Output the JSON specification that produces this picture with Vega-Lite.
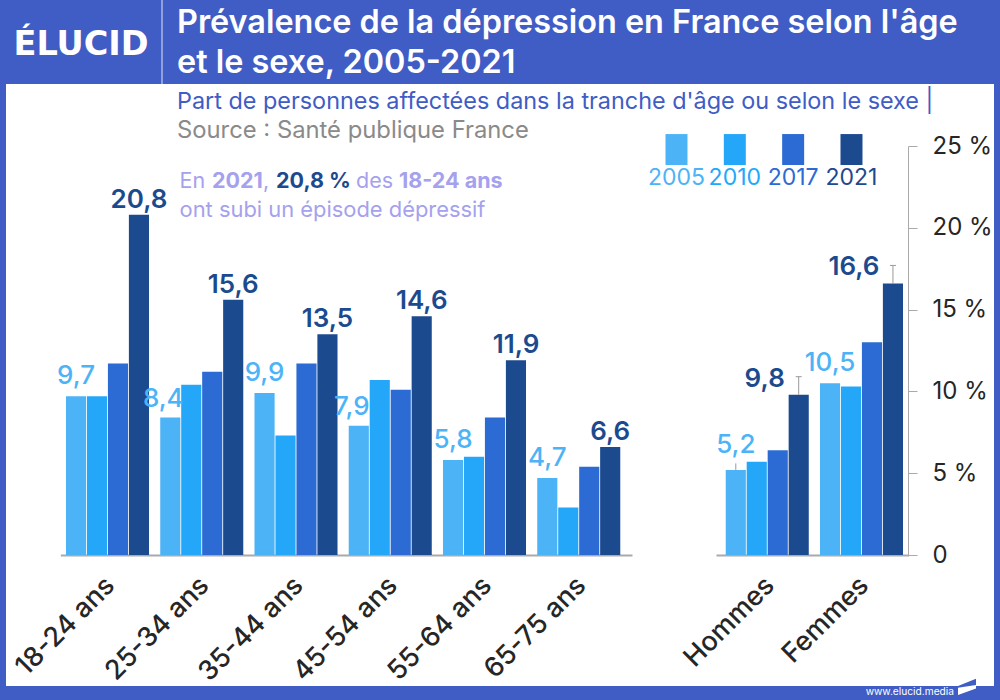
{
  "$schema": "https://vega.github.io/schema/vega-lite/v6.json",
  "width": 988,
  "height": 602,
  "autosize": "none",
  "padding": {"left": 6, "top": 84, "right": 6, "bottom": 14},
  "background": "#405cc5",
  "config": {
    "view": {"fill": "#ffffff", "stroke": null},
    "font": "Inter",
    "text": {"font": "Inter"}
  },
  "datasets": {
    "barres": [
      {"categorie": "18-24 ans", "annee": "2005", "valeur": 9.7, "libelle": "9,7"},
      {"categorie": "18-24 ans", "annee": "2010", "valeur": 9.7},
      {"categorie": "18-24 ans", "annee": "2017", "valeur": 11.7},
      {"categorie": "18-24 ans", "annee": "2021", "valeur": 20.8, "libelle": "20,8"},
      {"categorie": "25-34 ans", "annee": "2005", "valeur": 8.4, "libelle": "8,4"},
      {"categorie": "25-34 ans", "annee": "2010", "valeur": 10.4},
      {"categorie": "25-34 ans", "annee": "2017", "valeur": 11.2},
      {"categorie": "25-34 ans", "annee": "2021", "valeur": 15.6, "libelle": "15,6"},
      {"categorie": "35-44 ans", "annee": "2005", "valeur": 9.9, "libelle": "9,9"},
      {"categorie": "35-44 ans", "annee": "2010", "valeur": 7.3},
      {"categorie": "35-44 ans", "annee": "2017", "valeur": 11.7},
      {"categorie": "35-44 ans", "annee": "2021", "valeur": 13.5, "libelle": "13,5"},
      {"categorie": "45-54 ans", "annee": "2005", "valeur": 7.9, "libelle": "7,9"},
      {"categorie": "45-54 ans", "annee": "2010", "valeur": 10.7},
      {"categorie": "45-54 ans", "annee": "2017", "valeur": 10.1},
      {"categorie": "45-54 ans", "annee": "2021", "valeur": 14.6, "libelle": "14,6"},
      {"categorie": "55-64 ans", "annee": "2005", "valeur": 5.8, "libelle": "5,8"},
      {"categorie": "55-64 ans", "annee": "2010", "valeur": 6.0},
      {"categorie": "55-64 ans", "annee": "2017", "valeur": 8.4},
      {"categorie": "55-64 ans", "annee": "2021", "valeur": 11.9, "libelle": "11,9"},
      {"categorie": "65-75 ans", "annee": "2005", "valeur": 4.7, "libelle": "4,7"},
      {"categorie": "65-75 ans", "annee": "2010", "valeur": 2.9},
      {"categorie": "65-75 ans", "annee": "2017", "valeur": 5.4},
      {"categorie": "65-75 ans", "annee": "2021", "valeur": 6.6, "libelle": "6,6"},
      {"categorie": "Hommes", "annee": "2005", "valeur": 5.2, "libelle": "5,2"},
      {"categorie": "Hommes", "annee": "2010", "valeur": 5.7},
      {"categorie": "Hommes", "annee": "2017", "valeur": 6.4},
      {"categorie": "Hommes", "annee": "2021", "valeur": 9.8, "libelle": "9,8"},
      {"categorie": "Femmes", "annee": "2005", "valeur": 10.5, "libelle": "10,5"},
      {"categorie": "Femmes", "annee": "2010", "valeur": 10.3},
      {"categorie": "Femmes", "annee": "2017", "valeur": 13.0},
      {"categorie": "Femmes", "annee": "2021", "valeur": 16.6, "libelle": "16,6"}
    ],
    "reperes": [
      {"categorie": "Hommes", "annee": "2005", "valeur": 5.2, "repere": 5.6},
      {"categorie": "Hommes", "annee": "2021", "valeur": 9.8, "repere": 10.9},
      {"categorie": "Femmes", "annee": "2021", "valeur": 16.6, "repere": 17.7}
    ],
    "annees": [
      {"annee": "2005"},
      {"annee": "2010"},
      {"annee": "2017"},
      {"annee": "2021"}
    ]
  },
  "resolve": {"scale": {"xOffset": "independent"}},
  "layer": [
    {
      "data": {"values": [{"texte": "coupure"}]},
      "mark": {"type": "tick", "color": "#ffffff", "size": 84, "thickness": 4, "xOffset": 1.5, "opacity": 1},
      "encoding": {
        "x": {"datum": " ", "type": "nominal"},
        "y": {"datum": 0, "type": "quantitative"}
      }
    },
    {
      "data": {"name": "barres"},
      "encoding": {
        "x": {
          "field": "categorie",
          "type": "nominal",
          "sort": null,
          "scale": {
            "domain": ["18-24 ans", "25-34 ans", "35-44 ans", "45-54 ans", "55-64 ans", "65-75 ans", " ", "Hommes", "Femmes"],
            "range": [54.375, 902.625],
            "paddingInner": 0.119,
            "paddingOuter": 0.0595
          },
          "axis": {
            "title": null,
            "orient": "bottom",
            "offset": -131,
            "ticks": false,
            "domainColor": "#aaaaaa",
            "domainWidth": 2,
            "labelAngle": -45,
            "labelAlign": "right",
            "labelBaseline": "middle",
            "labelPadding": 26,
            "labelOffset": 3,
            "labelFont": "Inter",
            "labelFontSize": 27,
            "labelFontWeight": 500,
            "labelColor": "#262626",
            "labelOverlap": false
          }
        },
        "xOffset": {
          "field": "annee",
          "type": "nominal",
          "scale": {"domain": ["2005", "2010", "2017", "2021"], "paddingInner": 0.04}
        },
        "y": {
          "field": "valeur",
          "type": "quantitative",
          "scale": {"domain": [0, 25], "range": [471, 62], "nice": false},
          "axis": {
            "title": null,
            "orient": "right",
            "offset": -86,
            "values": [0, 5, 10, 15, 20, 25],
            "grid": false,
            "domainColor": "#aaaaaa",
            "tickColor": "#aaaaaa",
            "tickSize": 9,
            "labelPadding": 15,
            "labelFont": "Inter",
            "labelFontSize": 24,
            "labelColor": "#262626",
            "labelExpr": "datum.value == 0 ? '0' : datum.value + ' %'"
          }
        },
        "color": {
          "field": "annee",
          "type": "nominal",
          "legend": null,
          "scale": {
            "domain": ["2005", "2010", "2017", "2021"],
            "range": ["#4db3f7", "#24a7f9", "#2b6bd3", "#1c4a8f"]
          }
        }
      },
      "layer": [
        {"mark": {"type": "bar"}},
        {
          "data": {"name": "reperes"},
          "mark": {"type": "rule", "color": "#999999", "strokeWidth": 1},
          "encoding": {
            "y2": {"field": "repere"},
            "color": {"value": "#999999"}
          }
        },
        {
          "data": {"name": "reperes"},
          "transform": [{"filter": "datum.annee == '2021'"}],
          "mark": {"type": "tick", "color": "#999999", "size": 6, "thickness": 1, "xOffset": -3, "opacity": 1},
          "encoding": {
            "y": {"field": "repere", "type": "quantitative"},
            "color": {"value": "#999999"}
          }
        },
        {
          "transform": [{"filter": "datum.annee == '2005' && datum.categorie != '25-34 ans' && datum.categorie != '45-54 ans' && datum.categorie != 'Hommes'"}],
          "mark": {"type": "text", "baseline": "alphabetic", "dy": -12, "fontSize": 26, "fontWeight": 500},
          "encoding": {"text": {"field": "libelle"}}
        },
        {
          "transform": [{"filter": "datum.annee == '2005' && datum.categorie == 'Hommes'"}],
          "mark": {"type": "text", "baseline": "alphabetic", "dy": -17, "fontSize": 26, "fontWeight": 500},
          "encoding": {"text": {"field": "libelle"}}
        },
        {
          "transform": [{"filter": "datum.annee == '2005' && (datum.categorie == '25-34 ans' || datum.categorie == '45-54 ans')"}],
          "mark": {"type": "text", "baseline": "alphabetic", "dx": -7, "dy": -11, "fontSize": 26, "fontWeight": 500},
          "encoding": {"text": {"field": "libelle"}}
        },
        {
          "transform": [{"filter": "datum.annee == '2021' && datum.categorie != 'Hommes' && datum.categorie != 'Femmes'"}],
          "mark": {"type": "text", "baseline": "alphabetic", "dy": -7, "fontSize": 26, "fontWeight": 600},
          "encoding": {"text": {"field": "libelle"}}
        },
        {
          "transform": [{"filter": "datum.annee == '2021' && datum.categorie == 'Hommes'"}],
          "mark": {"type": "text", "baseline": "alphabetic", "dx": -34, "dy": -8, "fontSize": 26, "fontWeight": 600},
          "encoding": {"text": {"field": "libelle"}}
        },
        {
          "transform": [{"filter": "datum.annee == '2021' && datum.categorie == 'Femmes'"}],
          "mark": {"type": "text", "baseline": "alphabetic", "dx": -39, "dy": -8, "fontSize": 26, "fontWeight": 600},
          "encoding": {"text": {"field": "libelle"}}
        }
      ]
    },
    {
      "data": {"name": "annees"},
      "encoding": {
        "x": {"datum": " ", "type": "nominal"},
        "xOffset": {
          "field": "annee",
          "type": "nominal",
          "scale": {"type": "point", "domain": ["2005", "2010", "2017", "2021"], "range": [45, 220], "padding": 0}
        },
        "color": {"field": "annee", "type": "nominal", "legend": null}
      },
      "layer": [
        {
          "mark": {"type": "rule", "strokeWidth": 22},
          "encoding": {
            "y": {"datum": 25.73, "type": "quantitative"},
            "y2": {"datum": 23.84}
          }
        },
        {
          "mark": {"type": "text", "baseline": "alphabetic", "fontSize": 23},
          "encoding": {
            "y": {"datum": 22.62, "type": "quantitative"},
            "text": {"field": "annee"}
          }
        }
      ]
    },
    {
      "data": {"values": [{"texte": "Prévalence de la dépression en France selon l'âge"}]},
      "mark": {"type": "text", "align": "left", "baseline": "alphabetic", "dx": 69.5, "fontSize": 32.4, "fontWeight": 600, "color": "#ffffff"},
      "encoding": {
        "x": {"datum": "18-24 ans", "type": "nominal"},
        "y": {"datum": 31.9, "type": "quantitative"},
        "text": {"field": "texte"}
      }
    },
    {
      "data": {"values": [{"texte": "et le sexe, 2005-2021"}]},
      "mark": {"type": "text", "align": "left", "baseline": "alphabetic", "dx": 69.5, "fontSize": 32.4, "fontWeight": 600, "color": "#ffffff"},
      "encoding": {
        "x": {"datum": "18-24 ans", "type": "nominal"},
        "y": {"datum": 29.46, "type": "quantitative"},
        "text": {"field": "texte"}
      }
    },
    {
      "data": {"values": [{"texte": "Part de personnes affectées dans la tranche d'âge ou selon le sexe    |"}]},
      "mark": {"type": "text", "align": "left", "baseline": "alphabetic", "dx": 69.5, "fontSize": 23.4, "color": "#405cc5"},
      "encoding": {
        "x": {"datum": "18-24 ans", "type": "nominal"},
        "y": {"datum": 27.26, "type": "quantitative"},
        "text": {"field": "texte"}
      }
    },
    {
      "data": {"values": [{"texte": "Source : Santé publique France"}]},
      "mark": {"type": "text", "align": "left", "baseline": "alphabetic", "dx": 69.5, "fontSize": 23.8, "color": "#8a8a8a"},
      "encoding": {
        "x": {"datum": "18-24 ans", "type": "nominal"},
        "y": {"datum": 25.49, "type": "quantitative"},
        "text": {"field": "texte"}
      }
    },
    {
      "data": {"values": [{"texte": "En"}]},
      "mark": {"type": "text", "align": "left", "baseline": "alphabetic", "dx": 72, "fontSize": 21.5, "color": "#a5a1ee"},
      "encoding": {
        "x": {"datum": "18-24 ans", "type": "nominal"},
        "y": {"datum": 22.43, "type": "quantitative"},
        "text": {"field": "texte"}
      }
    },
    {
      "data": {"values": [{"texte": "2021"}]},
      "mark": {"type": "text", "align": "left", "baseline": "alphabetic", "dx": 104.5, "fontSize": 21.5, "fontWeight": 700, "color": "#a5a1ee"},
      "encoding": {
        "x": {"datum": "18-24 ans", "type": "nominal"},
        "y": {"datum": 22.43, "type": "quantitative"},
        "text": {"field": "texte"}
      }
    },
    {
      "data": {"values": [{"texte": ","}]},
      "mark": {"type": "text", "align": "left", "baseline": "alphabetic", "dx": 155.5, "fontSize": 21.5, "color": "#a5a1ee"},
      "encoding": {
        "x": {"datum": "18-24 ans", "type": "nominal"},
        "y": {"datum": 22.43, "type": "quantitative"},
        "text": {"field": "texte"}
      }
    },
    {
      "data": {"values": [{"texte": "20,8 %"}]},
      "mark": {"type": "text", "align": "left", "baseline": "alphabetic", "dx": 168.5, "fontSize": 21.5, "fontWeight": 700, "color": "#1c4a8f"},
      "encoding": {
        "x": {"datum": "18-24 ans", "type": "nominal"},
        "y": {"datum": 22.43, "type": "quantitative"},
        "text": {"field": "texte"}
      }
    },
    {
      "data": {"values": [{"texte": "des"}]},
      "mark": {"type": "text", "align": "left", "baseline": "alphabetic", "dx": 248.5, "fontSize": 21.5, "color": "#a5a1ee"},
      "encoding": {
        "x": {"datum": "18-24 ans", "type": "nominal"},
        "y": {"datum": 22.43, "type": "quantitative"},
        "text": {"field": "texte"}
      }
    },
    {
      "data": {"values": [{"texte": "18-24 ans"}]},
      "mark": {"type": "text", "align": "left", "baseline": "alphabetic", "dx": 291.5, "fontSize": 21.5, "fontWeight": 700, "color": "#a5a1ee"},
      "encoding": {
        "x": {"datum": "18-24 ans", "type": "nominal"},
        "y": {"datum": 22.43, "type": "quantitative"},
        "text": {"field": "texte"}
      }
    },
    {
      "data": {"values": [{"texte": "ont subi un épisode dépressif"}]},
      "mark": {"type": "text", "align": "left", "baseline": "alphabetic", "dx": 72, "fontSize": 21.9, "color": "#a5a1ee"},
      "encoding": {
        "x": {"datum": "18-24 ans", "type": "nominal"},
        "y": {"datum": 20.66, "type": "quantitative"},
        "text": {"field": "texte"}
      }
    },
    {
      "data": {"values": [{"texte": "ÉLUCID"}]},
      "mark": {"type": "text", "align": "left", "baseline": "alphabetic", "dx": -94, "font": "DejaVu Sans", "fontSize": 33.5, "fontWeight": 700, "color": "#ffffff"},
      "encoding": {
        "x": {"datum": "18-24 ans", "type": "nominal"},
        "y": {"datum": 30.56, "type": "quantitative"},
        "text": {"field": "texte"}
      }
    },
    {
      "data": {"values": [{"texte": "separateur"}]},
      "mark": {"type": "rule", "color": "#dfe4f5", "strokeWidth": 1, "xOffset": 54.5},
      "encoding": {
        "x": {"datum": "18-24 ans", "type": "nominal"},
        "y": {"datum": 33.95, "type": "quantitative"},
        "y2": {"datum": 28.79}
      }
    },
    {
      "data": {"values": [{"texte": "www.elucid.media"}]},
      "mark": {"type": "text", "align": "right", "baseline": "alphabetic", "dx": 92.5, "fontSize": 10.2, "color": "#ffffff"},
      "encoding": {
        "x": {"datum": "Femmes", "type": "nominal"},
        "y": {"datum": -8.56, "type": "quantitative"},
        "text": {"field": "texte"}
      }
    },
    {
      "data": {"values": [{"texte": "drapeau haut"}]},
      "mark": {
        "type": "point",
        "filled": true,
        "color": "#405cc5",
        "opacity": 1,
        "size": 324,
        "xOffset": 105.5,
        "shape": "M-1 0 L1 -0.8 V0 Z"
      },
      "encoding": {
        "x": {"datum": "Femmes", "type": "nominal"},
        "y": {"datum": -8.0, "type": "quantitative"}
      }
    },
    {
      "data": {"values": [{"texte": "drapeau bas"}]},
      "mark": {
        "type": "point",
        "filled": true,
        "color": "#ffffff",
        "opacity": 1,
        "size": 324,
        "xOffset": 105.5,
        "shape": "M-1 0.2 L1 -0.1 V0.3 L-1 1 Z"
      },
      "encoding": {
        "x": {"datum": "Femmes", "type": "nominal"},
        "y": {"datum": -8.0, "type": "quantitative"}
      }
    }
  ]
}
